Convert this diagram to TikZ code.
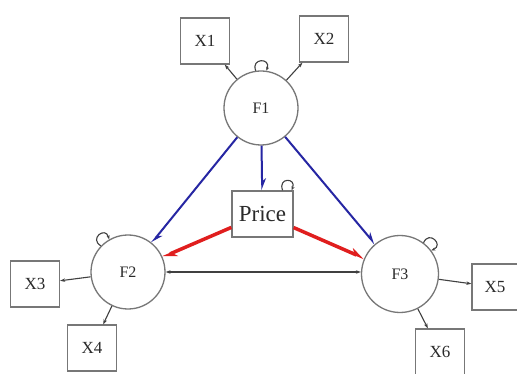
\documentclass[tikz,border=0pt]{standalone}
\usepackage{fontspec}
\setmainfont{Liberation Serif}
\usetikzlibrary{arrows.meta}
\definecolor{boxgray}{HTML}{777777}
\definecolor{txtgray}{HTML}{2A2A2A}
\definecolor{lineblk}{HTML}{404040}
\definecolor{semblue}{HTML}{2626A3}
\definecolor{semred}{HTML}{E01E1E}
\begin{document}
\begin{tikzpicture}[x=1pt,y=1pt,
  latent/.style={circle,draw=boxgray,line width=1.3pt,minimum size=74pt,inner sep=0pt,text=txtgray,font=\fontsize{16}{16}\selectfont},
  manifest/.style={rectangle,draw=boxgray,line width=1.3pt,minimum width=49pt,minimum height=46pt,inner sep=0pt,text=txtgray,font=\fontsize{17}{17}\selectfont},
  pricebox/.style={rectangle,draw=boxgray,line width=1.3pt,minimum width=61pt,minimum height=46pt,inner sep=0pt,text=txtgray,font=\fontsize{23}{23}\selectfont},
  loadline/.style={draw=lineblk,line width=1.1pt,-{Stealth[length=5pt,width=3.5pt]}},
  covline/.style={draw=lineblk,line width=1.1pt,{Stealth[length=5pt,width=3.5pt]}-{Stealth[length=5pt,width=3.5pt]}},
  loopline/.style={draw=lineblk,line width=1.1pt,-{Stealth[length=4pt,width=3pt]}},
  bluepath/.style={draw=semblue,line width=2pt,-{Stealth[harpoon,length=10pt,width=8pt]}},
  redpath/.style={draw=semred,line width=3.5pt,-{Stealth[harpoon,length=12pt,width=10pt]}}]
\useasboundingbox (0,0) rectangle (517,-374);
\fill[white] (0,0) rectangle (517,-374);
% latent variables
\node[latent] (F1) at (261,-108) {F1};
\node[latent] (F2) at (128,-272) {F2};
\node[latent,minimum size=77pt] (F3) at (400,-274) {F3};
\node[pricebox] (P) at (262.5,-214) {Price};
% indicators
\node[manifest] (X1) at (205,-41) {X1};
\node[manifest] (X2) at (324,-39) {X2};
\node[manifest] (X3) at (35,-284) {X3};
\node[manifest] (X4) at (92,-348) {X4};
\node[manifest,minimum width=46pt] (X5) at (495,-287) {X5};
\node[manifest] (X6) at (440,-352) {X6};
% loadings
\draw[loadline] (F1) -- (X1);
\draw[loadline] (F1) -- (X2);
\draw[loadline] (F2) -- (X3);
\draw[loadline] (F2) -- (X4);
\draw[loadline] (F3) -- (X5);
\draw[loadline] (F3) -- (X6);
% structural paths
\draw[bluepath] (F1) -- (F2);
\draw[bluepath] (F1) -- (P);
\draw[bluepath] (F1) -- (F3);
\draw[redpath] (P) -- (F2);
\draw[redpath] (P) -- (F3);
\draw[covline] (F2.east) -- (F2.east -| F3.west);
% residual loops
\draw[loopline] (F1.98) .. controls +(112:14) and +(68:14) .. (F1.82);
\draw[loopline] (F2.136) .. controls +(150:14) and +(106:14) .. (F2.120);
\draw[loopline] (F3.53) .. controls +(67:14) and +(23:14) .. (F3.37);
\coordinate (pl1) at ([xshift=-11pt]P.north east);
\coordinate (pl2) at ([xshift=-2pt]P.north east);
\draw[loopline] (pl1) .. controls +(112:14) and +(68:14) .. (pl2);
\end{tikzpicture}
\end{document}
